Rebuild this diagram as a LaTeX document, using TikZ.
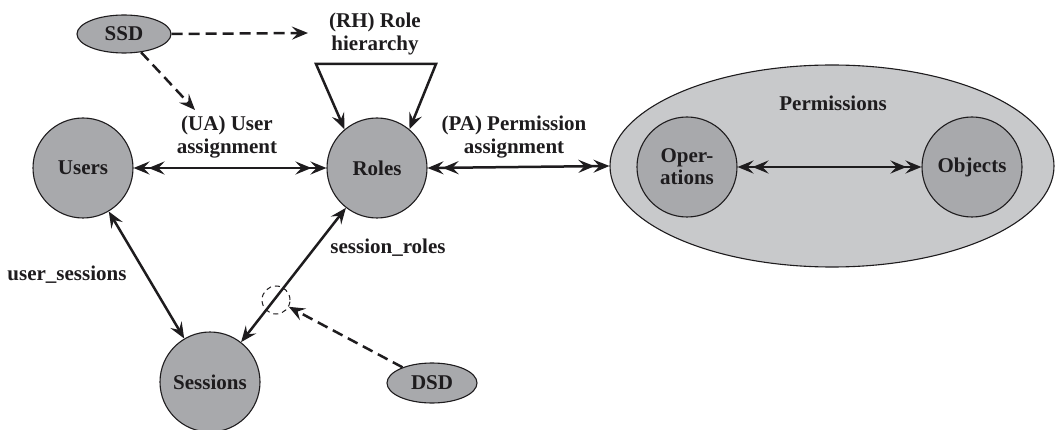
\documentclass[tikz,border=0pt]{standalone}
\usepackage{fontspec}
\setmainfont{Liberation Serif}
\usetikzlibrary{arrows.meta,shapes.geometric}
\definecolor{circfill}{RGB}{168,169,172}
\definecolor{permfill}{RGB}{200,201,203}
\definecolor{ink}{RGB}{30,28,30}
\tikzset{
  every node/.style={font=\fontsize{21}{23}\selectfont\bfseries, text=ink},
  ent/.style={circle, draw=ink, line width=1.1pt, fill=circfill, minimum size=100pt, inner sep=0pt, align=center},
  con/.style={ellipse, draw=ink, line width=1.1pt, fill=circfill, inner sep=0pt},
  lbl/.style={align=center, inner sep=1pt},
  tp/.tip={Stealth[length=16pt,width=13pt,inset=6pt]},
  tpd/.tip={Stealth[length=16pt,width=13pt,inset=6pt,sep=-1pt]Stealth[length=16pt,width=13pt,inset=6pt]},
  rel/.style={draw=ink, line width=2.5pt},
  dblrel/.style={rel, {tpd}-{tpd}},
  sglrel/.style={rel, {tp}-{tp}},
  dsh/.style={draw=ink, line width=2.5pt, dash pattern=on 11pt off 6pt, -{tp}},
}
\begin{document}
\begin{tikzpicture}[x=1pt, y=-1pt]
\useasboundingbox (0,0) rectangle (1057,430);
% Permissions container
\node[ellipse, draw=ink, line width=1.1pt, fill=permfill, minimum width=444pt, minimum height=202pt] (perm) at (832,166) {};
\node[lbl] (permlbl) at (833,103) {Permissions};
% entities
\node[ent] (users) at (83,168) {Users};
\node[ent] (roles) at (377,168) {Roles};
\node[ent] (sessions) at (210,382) {Sessions};
\node[ent] (ops) at (687,167) {Oper-\\[-1pt]ations};
\node[ent] (objs) at (972,167) {Objects};
% constraints
\node[con, minimum width=94pt, minimum height=38pt] (ssd) at (124,34) {SSD};
\node[con, minimum width=90pt, minimum height=40pt] (dsd) at (432,383) {DSD};
% labels
\node[lbl] (rhlbl) at (375,34) {(RH) Role\\hierarchy};
\node[lbl] (ualbl) at (227,137) {(UA) User\\assignment};
\node[lbl] (palbl) at (514,137) {(PA) Permission\\assignment};
\node[lbl] (uslbl) at (67,275) {user\_sessions};
\node[lbl] (srlbl) at (388,248) {session\_roles};
% relations
\draw[dblrel] (users) -- (roles);
\draw[dblrel] (roles.east) -- (perm.west);
\draw[dblrel] (ops) -- (objs);
\draw[sglrel] (users) -- (sessions);
\draw[sglrel] (sessions) -- (roles);
% role hierarchy bracket
\coordinate (rhl) at (316,64);
\coordinate (rhr) at (436,64);
\draw[rel, {tp}-{tp}, line join=miter] (roles.130) -- (rhl) -- (rhr) -- (roles.50);
% dashed constraint circle
\node[circle, draw=ink, line width=1pt, dash pattern=on 5pt off 4pt, minimum size=28pt, inner sep=0pt] (dsdc) at (276,300) {};
% SSD links
\coordinate (ssdrh) at (308,33);
\coordinate (ssdua) at (195,110);
\draw[dsh] (ssd.east) -- (ssdrh);
\draw[dsh] (ssd) -- (ssdua);
% DSD link
\draw[dsh] (dsd) -- (dsdc);
\end{tikzpicture}
\end{document}
